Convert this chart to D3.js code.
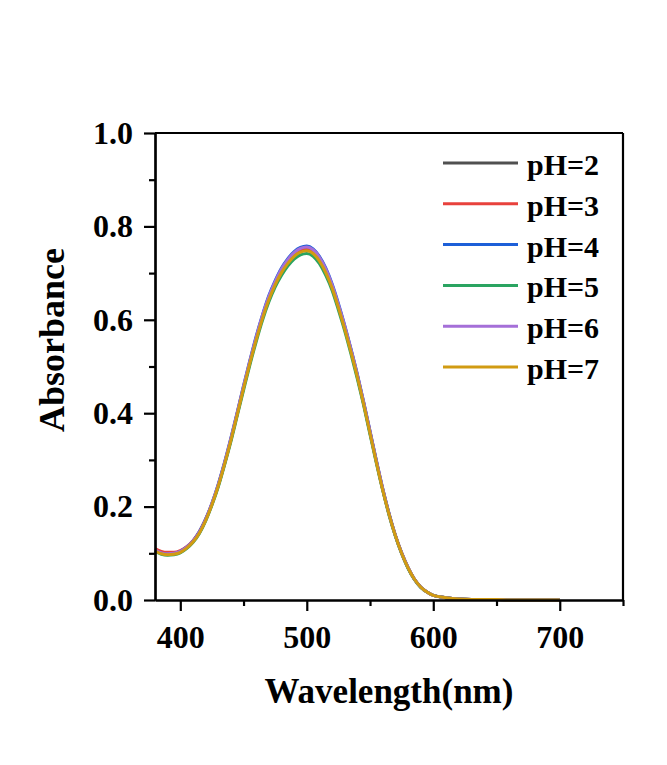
<!DOCTYPE html>
<html>
<head>
<meta charset="utf-8">
<script src="https://cdn.jsdelivr.net/npm/d3@7"></script>
<style>
  html, body { margin: 0; padding: 0; background: #ffffff; }
  svg { display: block; }
  text { font-family: "Liberation Serif", "Times New Roman", serif; font-weight: bold; fill: #000; }
</style>
</head>
<body>
<svg id="chart" width="667" height="765"></svg>
<script>
// ---- data ----
const wavelengths = [380,385,390,395,400,405,410,415,420,425,
                     430,435,440,445,450,455,460,465,470,475,
                     480,485,490,495,500,505,510,515,520,525,
                     530,535,540,545,550,555,560,565,570,575,
                     580,585,590,595,600,610,620,630,640,650,
                     660,670,680,690,700];

const pH2 = [.106,.100,.098,.099,.103,.112,.125,.144,.171,.205,
             .245,.292,.343,.398,.454,.508,.559,.605,.645,.677,
             .703,.723,.738,.747,.750,.744,.728,.703,.670,.628,
             .582,.532,.478,.420,.358,.296,.237,.184,.138,.100,
             .069,.045,.028,.017,.010,.005,.002,.001,.001,.001,
             0,0,0,0,0];
const pH3 = [.110,.104,.102,.102,.106,.114,.127,.146,.173,.206,
             .246,.293,.344,.400,.456,.510,.561,.607,.648,.680,
             .706,.726,.741,.750,.753,.747,.731,.706,.673,.631,
             .585,.535,.481,.422,.360,.298,.238,.185,.139,.101,
             .070,.045,.028,.017,.010,.005,.002,.001,.001,.001,
             0,0,0,0,0];
const pH4 = [.106,.100,.098,.099,.104,.113,.126,.146,.173,.207,
             .248,.295,.347,.402,.459,.513,.565,.611,.652,.684,
             .711,.731,.746,.755,.758,.752,.736,.711,.677,.635,
             .588,.537,.483,.424,.362,.299,.239,.186,.139,.101,
             .070,.045,.028,.017,.010,.005,.002,.001,.001,.001,
             0,0,0,0,0];
const pH5 = [.104,.098,.096,.097,.101,.110,.123,.142,.169,.203,
             .242,.289,.339,.394,.449,.503,.553,.599,.638,.670,
             .695,.715,.730,.739,.742,.736,.720,.695,.663,.621,
             .576,.526,.473,.416,.354,.293,.235,.182,.137,.099,
             .068,.044,.027,.017,.010,.005,.002,.001,.001,.001,
             0,0,0,0,0];
const pH6 = [.107,.101,.099,.100,.104,.113,.126,.145,.172,.207,
             .247,.294,.346,.401,.458,.512,.563,.610,.650,.682,
             .709,.729,.744,.753,.756,.750,.734,.709,.675,.633,
             .587,.536,.482,.423,.361,.298,.239,.185,.139,.101,
             .070,.045,.028,.017,.010,.005,.002,.001,.001,.001,
             0,0,0,0,0];
const pH7 = [.105,.099,.097,.098,.102,.111,.124,.143,.170,.204,
             .244,.291,.342,.397,.453,.507,.557,.603,.643,.675,
             .701,.721,.736,.745,.748,.742,.726,.701,.668,.626,
             .580,.530,.477,.419,.357,.295,.236,.184,.138,.100,
             .069,.045,.028,.017,.010,.005,.002,.001,.001,.001,
             0,0,0,0,0];

const seriesNames  = ["pH=2","pH=3","pH=4","pH=5","pH=6","pH=7"];
const seriesValues = [pH2, pH3, pH4, pH5, pH6, pH7];
const seriesColors = ["#505050","#e8413c","#1d5fd8","#2aa461","#a56fd8","#d19b12"];

const xMajorTicks = [400, 500, 600, 700];
const xMinorTicks = [450, 550, 650, 750];
const yMajorTicks = [0, 0.2, 0.4, 0.6, 0.8, 1.0];
const yMinorTicks = [0.1, 0.3, 0.5, 0.7, 0.9];

const xTitle = "Wavelength(nm)";
const yTitle = "Absorbance";

// ---- layout ----
const L = 155, R = 623, T = 133, B = 600;
const svg = d3.select("#chart");

const x = d3.scaleLinear().domain([380, 750]).range([L, R]);
const y = d3.scaleLinear().domain([0, 1.0]).range([B, T]);

// curves
const line = d3.line()
  .x((d, i) => x(wavelengths[i]))
  .y(d => y(d))
  .curve(d3.curveMonotoneX);

const gLines = svg.append("g");
seriesValues.forEach((vals, k) => {
  gLines.append("path")
    .datum(vals)
    .attr("d", line)
    .attr("fill", "none")
    .attr("stroke", seriesColors[k])
    .attr("stroke-width", 3)
    .attr("stroke-linejoin", "round");
});

// frame (top, right)
svg.append("line").attr("x1", L).attr("x2", R).attr("y1", T).attr("y2", T)
  .attr("stroke", "#000").attr("stroke-width", 2.2);
svg.append("line").attr("x1", R).attr("x2", R).attr("y1", T).attr("y2", B)
  .attr("stroke", "#000").attr("stroke-width", 2.2);

// axes
const xAxis = svg.append("g").attr("transform", `translate(0,${B})`)
  .call(d3.axisBottom(x).tickValues(xMajorTicks).tickFormat(d3.format("d"))
        .tickSize(11).tickPadding(14).tickSizeOuter(0));
const xMinor = svg.append("g").attr("transform", `translate(0,${B})`)
  .call(d3.axisBottom(x).tickValues(xMinorTicks).tickFormat("").tickSize(6).tickSizeOuter(0));

const yAxis = svg.append("g").attr("transform", `translate(${L},0)`)
  .call(d3.axisLeft(y).tickValues(yMajorTicks).tickFormat(d3.format(".1f"))
        .tickSize(11).tickPadding(11).tickSizeOuter(0));
const yMinor = svg.append("g").attr("transform", `translate(${L},0)`)
  .call(d3.axisLeft(y).tickValues(yMinorTicks).tickFormat("").tickSize(6).tickSizeOuter(0));

[xAxis, xMinor, yAxis, yMinor].forEach(g => {
  g.select(".domain").attr("stroke", "#000").attr("stroke-width", 2.2);
  g.selectAll(".tick line").attr("stroke", "#000").attr("stroke-width", 2.2);
});
[xAxis, yAxis].forEach(g => g.selectAll("text")
  .attr("font-size", 32)
  .style("font-family", '"Liberation Serif", "Times New Roman", serif')
  .style("font-weight", "bold"));

// axis titles
svg.append("text")
  .attr("x", (L + R) / 2).attr("y", 703)
  .attr("text-anchor", "middle")
  .attr("font-size", 35)
  .text(xTitle);

svg.append("text")
  .attr("transform", `translate(64,340) rotate(-90)`)
  .attr("text-anchor", "middle")
  .attr("font-size", 36)
  .text(yTitle);

// legend
const legendY0 = 163, legendDY = 40.8;
const lg = svg.append("g");
seriesNames.forEach((name, k) => {
  const yy = legendY0 + k * legendDY;
  lg.append("line")
    .attr("x1", 443).attr("x2", 518).attr("y1", yy).attr("y2", yy)
    .attr("stroke", seriesColors[k]).attr("stroke-width", 3);
  lg.append("text")
    .attr("x", 527).attr("y", yy + 12)
    .attr("font-size", 30)
    .text(name);
});
</script>
</body>
</html>
